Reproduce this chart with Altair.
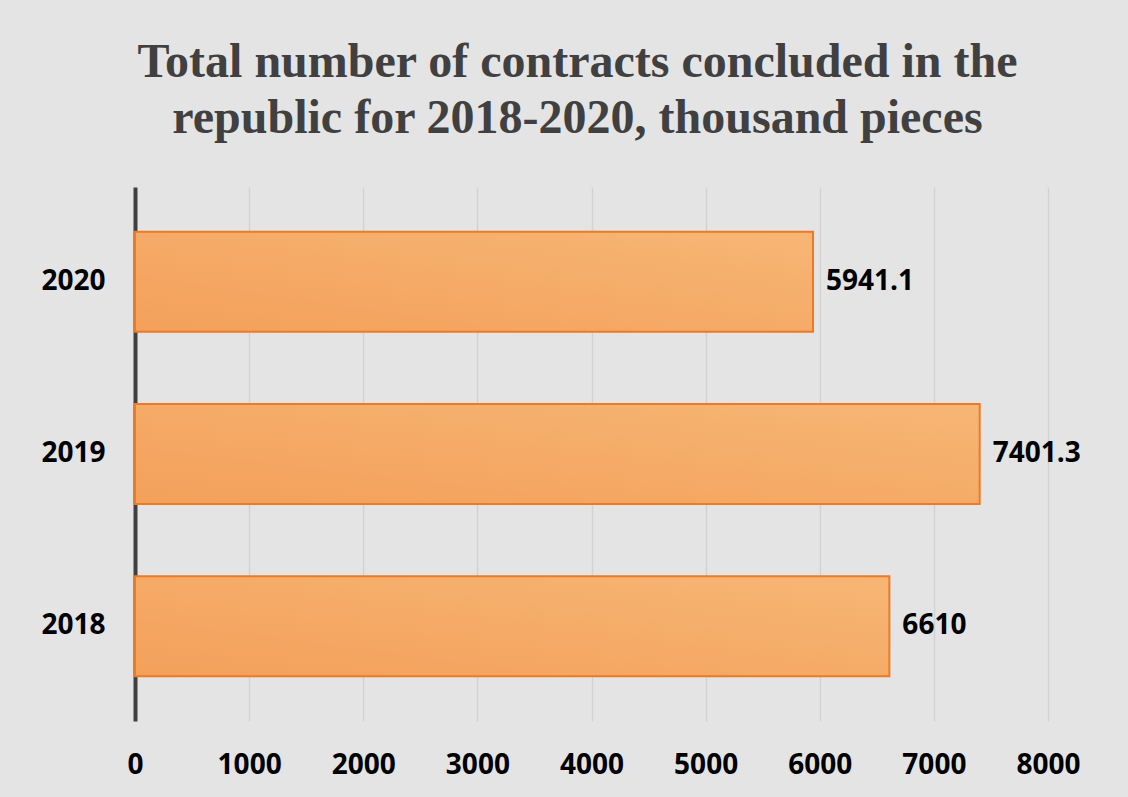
import altair as alt
import pandas as pd

years = ["2018", "2019", "2020"]
values = [6610, 7401.3, 5941.1]
value_labels = ["6610", "7401.3", "5941.1"]
x_ticks = [0, 1000, 2000, 3000, 4000, 5000, 6000, 7000, 8000]
title_lines = ["Total number of contracts concluded in the",
               "republic for 2018-2020, thousand pieces"]

df = pd.DataFrame({"year": years, "value": values, "label": value_labels})

label_font = "Open Sans"
order = ["2020", "2019", "2018"]

y_enc = alt.Y(
    "year:N",
    sort=order,
    title=None,
    scale=alt.Scale(paddingInner=0.42, paddingOuter=0.26),
    axis=alt.Axis(
        domain=True, domainColor="#404040", domainWidth=4,
        ticks=False, tickSize=0, labelPadding=30,
        labelFont=label_font, labelFontSize=28, labelFontWeight="bold",
        labelColor="#000000", grid=False,
    ),
)

x_enc = alt.X(
    "value:Q",
    title=None,
    scale=alt.Scale(domain=[0, 8000], nice=False),
    axis=alt.Axis(
        values=x_ticks, format="d", domain=False, ticks=False, tickSize=0,
        labelPadding=30, labelFlush=False, labelOverlap=False,
        labelFont=label_font, labelFontSize=28,
        labelFontWeight="bold", labelColor="#000000",
        grid=True, gridColor="#d2d2d2", gridWidth=1.5,
    ),
)

bars = alt.Chart(df).mark_bar(
    color=alt.Gradient(
        gradient="linear",
        stops=[alt.GradientStop(color="#F3A05A", offset=0),
               alt.GradientStop(color="#F7B675", offset=1)],
        x1=0, x2=1, y1=1, y2=0,
    ),
    stroke="#EC7A26", strokeWidth=2,
).encode(x=x_enc, y=y_enc)

texts = alt.Chart(df).mark_text(
    align="left", baseline="middle", dx=13,
    font=label_font, fontSize=28, fontWeight="bold", color="#000000",
).encode(x=alt.X("value:Q", scale=alt.Scale(domain=[0, 8000], nice=False)),
         y=alt.Y("year:N", sort=order),
         text="label:N")

chart = alt.layer(bars, texts).properties(
    width=913, height=534,
    title=alt.TitleParams(
        text=title_lines, anchor="middle", frame="group",
        font="Liberation Serif", fontSize=48, fontWeight="bold",
        color="#404040", lineHeight=56, offset=44, dx=-14,
    ),
    autosize=alt.AutoSizeParams(type="none"),
    padding={"left": 135, "top": 187, "right": 80, "bottom": 76},
    background="#e4e4e4",
).configure_view(stroke=None)

chart.save("out.html", embed_options={"renderer": "svg", "actions": False})
